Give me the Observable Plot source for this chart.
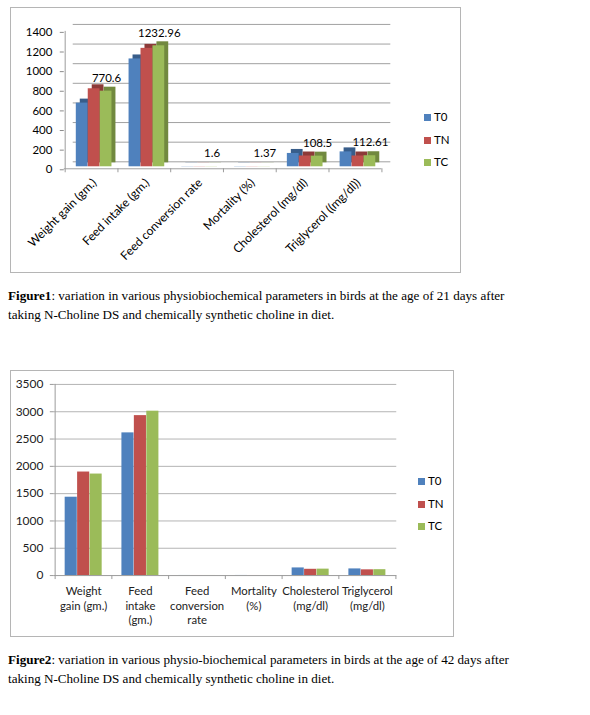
<!DOCTYPE html>
<html><head><meta charset="utf-8">
<script src="https://cdn.jsdelivr.net/npm/d3@7"></script>
<script src="https://cdn.jsdelivr.net/npm/@observablehq/plot@0.6"></script>
<style>
html,body{margin:0;padding:0;background:#fff}
body{width:590px;height:715px;position:relative;overflow:hidden;font-family:Lato,sans-serif}
.box{position:absolute;border:1px solid #b5b5b5;box-sizing:border-box;background:#fff}
.box svg{position:absolute;left:-1px;top:-1px;overflow:visible}
.leg{position:absolute;font:11.5px Lato,sans-serif;color:#000;line-height:12px;white-space:nowrap}
.leg i{display:inline-block;width:7px;height:7px;margin-right:3px;vertical-align:0px}
.cap{position:absolute;left:8px;font:13.1px "Liberation Serif","Times New Roman",serif;line-height:18.5px;color:#000;white-space:nowrap}
</style></head><body>
<div id="c1" class="box" style="left:10px;top:7px;width:451px;height:266px"></div>
<div class="cap" style="top:287px"><b>Figure1</b>: variation in various physiobiochemical parameters in birds at the age of 21 days after<br>taking N-Choline DS and chemically synthetic choline in diet.</div>
<div id="c2" class="box" style="left:10px;top:370px;width:444px;height:267px"></div>
<div class="cap" style="top:651px"><b>Figure2</b>: variation in various physio-biochemical parameters in birds at the age of 42 days after<br>taking N-Choline DS and chemically synthetic choline in diet.</div>
<script>
// ---------- data ----------
const series = ["T0", "TN", "TC"];
const colors = ["#4F81BD", "#C0504D", "#9BBB59"];
const sideColors = ["#385D8A", "#8C3A38", "#71893F"];

// Figure 1 (21 days)
const categories1 = ["Weight gain (gm.)", "Feed intake (gm.)", "Feed conversion rate", "Mortality (%)", "Cholesterol (mg/dl)", "Triglycerol ((mg/dl))"];
const t0_21 = [649, 1099, 1.7, 2.0, 136, 152];
const tn_21 = [795, 1207, 1.58, 1.5, 110, 110];
const tc_21 = [770.6, 1232.96, 1.6, 1.37, 108.5, 112.61];
const yTicks1 = [0, 200, 400, 600, 800, 1000, 1200, 1400];

// Figure 2 (42 days)
const categories2 = ["Weight\ngain (gm.)", "Feed\nintake\n(gm.)", "Feed\nconversion\nrate", "Mortality\n(%)", "Cholesterol\n(mg/dl)", "Triglycerol\n(mg/dl)"];
const t0_42 = [1435, 2613, 1.85, 2.0, 140, 122];
const tn_42 = [1896, 2929, 1.55, 1.5, 115, 105];
const tc_42 = [1859, 3010, 1.6, 1.4, 118, 108];
const yTicks2 = [0, 500, 1000, 1500, 2000, 2500, 3000, 3500];

// ---------- helpers ----------
function rows(cats, vals) {
  return cats.flatMap((c, i) => series.map((s, j) => ({cat: c, series: s, value: vals[j][i]})));
}
function legend(left, top, gap) {
  series.forEach((s, j) => {
    const d = document.createElement("div");
    d.className = "leg";
    d.style.left = left + "px";
    d.style.top = (top + j * gap - 6) + "px";
    d.innerHTML = `<i style="background:${colors[j]}"></i>${s}`;
    document.body.appendChild(d);
  });
}

// ---------- Figure 1 ----------
{
  const W = 451, H = 266, ml = 54, mr = 78, mt = 22, mb = 106;
  const step = (W - ml - mr) / categories1.length;
  const bw = 12, inset = (step - bw) / 2;
  const offs = [-9.5, 2.5, 14.5];
  const data = rows(categories1, [t0_21, tn_21, tc_21]);
  const marks = [
    Plot.ruleY(yTicks1, {y: d => d, stroke: "#a0a0a0", dx: 9, dy: -5}),
    Plot.ruleY([0], {stroke: "#a0a0a0", dy: 2}),
    Plot.ruleX([categories1[0]], {x: d => d, dx: -step / 2, stroke: "#9a9a9a", dy: 2}),
    Plot.ruleX(categories1, {x: d => d, dx: -step / 2, insetTop: H - mt - mb, insetBottom: -4, dy: 2, stroke: "#9a9a9a"}),
    Plot.ruleX([categories1[categories1.length - 1]], {x: d => d, dx: step / 2, insetTop: H - mt - mb, insetBottom: -4, dy: 2, stroke: "#9a9a9a"})
  ];
  series.forEach((s, j) => {
    const sd = data.filter(d => d.series === s);
    marks.push(Plot.barY(sd, {x: "cat", y: "value", fill: sideColors[j], dx: offs[j] + 4, dy: -4, insetLeft: inset, insetRight: inset}));
    marks.push(Plot.barY(sd, {x: "cat", y: "value", fill: colors[j], dx: offs[j], insetLeft: inset, insetRight: inset}));
  });
  marks.push(Plot.text(data.filter(d => d.series === "TC"), {x: "cat", y: "value", text: d => String(d.value), dx: 15, dy: -13, fontSize: 11.5, fill: "#000"}));
  marks.push(Plot.axisY({ticks: yTicks1, tickSize: 4, tickPadding: 8, dy: 3, stroke: "#8a8a8a", fill: "#000", fontSize: 11.5, label: null, tickFormat: d => String(d)}));
  marks.push(Plot.axisX({tickSize: 0, tickRotate: -45, tickPadding: 14, dx: 3, fill: "#000", fontSize: 12, label: null}));
  const svg = Plot.plot({
    width: W, height: H, marginLeft: ml, marginRight: mr, marginTop: mt, marginBottom: mb,
    style: {fontFamily: "Lato, sans-serif", fontSize: "11px", background: "transparent", color: "#000"},
    x: {type: "band", domain: categories1, padding: 0, label: null},
    y: {domain: [0, 1400], label: null},
    marks
  });
  document.getElementById("c1").appendChild(svg);
  legend(424, 117, 22.5);
}

// ---------- Figure 2 ----------
{
  const W = 444, H = 267, ml = 44, mr = 56, mt = 14, mb = 61;
  const step = (W - ml - mr) / categories2.length;
  const bw = 12.5, inset = (step - bw) / 2;
  const offs = [-12.5, 0, 12.5];
  const data = rows(categories2, [t0_42, tn_42, tc_42]);
  const marks = [
    Plot.ruleY(yTicks2.slice(1), {y: d => d, stroke: "#b3b3b3"}),
    Plot.ruleX(categories2, {x: d => d, dx: -step / 2, insetTop: H - mt - mb, insetBottom: -4, stroke: "#9a9a9a"}),
    Plot.ruleX([categories2[categories2.length - 1]], {x: d => d, dx: step / 2, insetTop: H - mt - mb, insetBottom: -4, stroke: "#9a9a9a"})
  ];
  series.forEach((s, j) => {
    marks.push(Plot.barY(data.filter(d => d.series === s), {x: "cat", y: "value", fill: colors[j], dx: offs[j], insetLeft: inset, insetRight: inset}));
  });
  marks.push(Plot.ruleY([0], {stroke: "#9a9a9a"}));
  marks.push(Plot.ruleX([categories2[0]], {x: d => d, dx: -step / 2, stroke: "#9a9a9a"}));
  marks.push(Plot.axisY({ticks: yTicks2, tickSize: 4, tickPadding: 7, stroke: "#9a9a9a", fill: "#222", fontSize: 12, label: null, tickFormat: d => String(d)}));
  marks.push(Plot.axisX({tickSize: 0, tickPadding: 9, fill: "#222", fontSize: 11.4, lineHeight: 1.3, label: null}));
  const svg = Plot.plot({
    width: W, height: H, marginLeft: ml, marginRight: mr, marginTop: mt, marginBottom: mb,
    style: {fontFamily: "Lato, sans-serif", fontSize: "11px", background: "transparent", color: "#222"},
    x: {type: "band", domain: categories2, padding: 0, label: null},
    y: {domain: [0, 3500], label: null},
    marks
  });
  document.getElementById("c2").appendChild(svg);
  legend(418, 481, 22.5);
}
</script>
</body></html>
